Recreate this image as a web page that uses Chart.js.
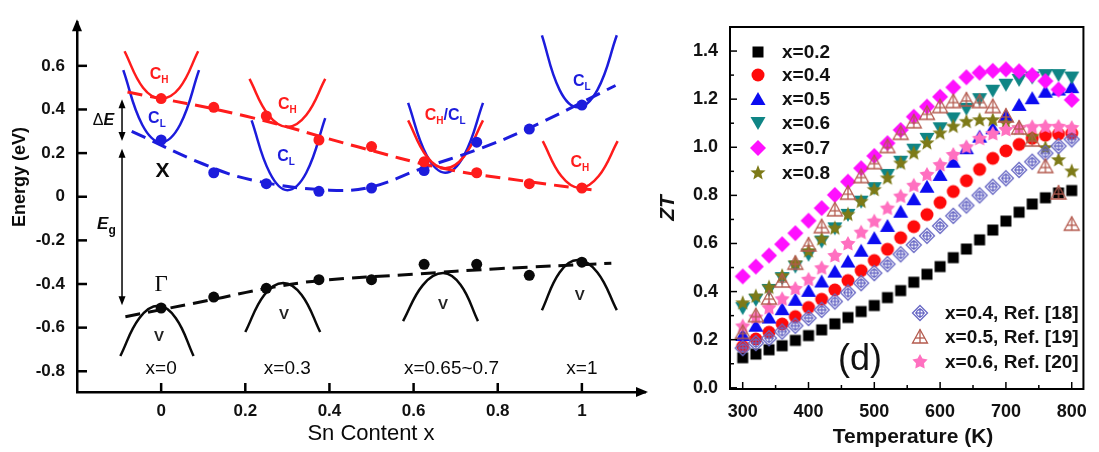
<!DOCTYPE html>
<html>
<head>
<meta charset="utf-8">
<title>Band edges and ZT of Mg2Si(1-x)Sn(x)</title>
<script src="https://cdn.jsdelivr.net/npm/chart.js@4.4.1/dist/chart.umd.min.js"></script>
<style>
  html, body { margin: 0; padding: 0; background: #fff; }
  #wrap { position: relative; width: 1099px; height: 452px; overflow: hidden; }
  canvas { position: absolute; top: 0; }
  #bands { left: 0; }
  #zt { left: 640px; }
</style>
</head>
<body>
<div id="wrap">
  <canvas id="bands" width="665" height="452"></canvas>
  <canvas id="zt" width="459" height="452"></canvas>
</div>
<script>
// ================================
// 1. DATA - left panel: band edges vs Sn content
// ================================
const snContent = [0, 0.125, 0.25, 0.375, 0.5, 0.625, 0.75, 0.875, 1.0];
const heavyDots = [0.45, 0.41, 0.37, 0.26, 0.23, 0.16, 0.11, 0.06, 0.04];   // C_H (red)
const lightDots = [0.26, 0.11, 0.06, 0.025, 0.04, 0.12, 0.25, 0.31, 0.42];  // C_L (blue)
const valenceDots = [-0.51, -0.46, -0.42, -0.38, -0.38, -0.31, -0.31, -0.36, -0.30];

// dashed guide lines
const heavyFitX = [-0.08, 0.2, 0.465, 0.67, 0.87, 1.03];
const heavyFitY = [0.48, 0.37, 0.23, 0.13, 0.07, 0.03];
const lightFitX = [-0.07, 0.1, 0.22, 0.4, 0.5, 0.62, 0.75, 0.87, 1.08];
const lightFitY = [0.30, 0.15, 0.075, 0.03, 0.045, 0.13, 0.215, 0.31, 0.51];
const valenceFitX = [-0.085, 0.125, 0.25, 0.375, 0.6, 0.8, 1.07];
const valenceFitY = [-0.55, -0.47, -0.42, -0.385, -0.355, -0.33, -0.305];

// band sketches (k-space cartoons placed at each composition)
const chAt0X = [-0.087, -0.043, 0, 0.044, 0.088],      chAt0Y = [0.667, 0.50, 0.45, 0.50, 0.667];
const clAt0X = [-0.09, -0.045, 0, 0.045, 0.09],        clAt0Y = [0.58, 0.33, 0.25, 0.33, 0.58];
const chAt3X = [0.21, 0.255, 0.30, 0.345, 0.39],       chAt3Y = [0.54, 0.375, 0.32, 0.375, 0.54];
const clAt3X = [0.215, 0.258, 0.30, 0.345, 0.39],      clAt3Y = [0.35, 0.11, 0.03, 0.11, 0.36];
const clAt67X = [0.587, 0.631, 0.675, 0.72, 0.765],    clAt67Y = [0.43, 0.19, 0.11, 0.19, 0.43];
const chAt67X = [0.587, 0.631, 0.675, 0.72, 0.765],    chAt67Y = [0.35, 0.185, 0.13, 0.185, 0.35];
const clAt1X = [0.905, 0.947, 0.99, 1.037, 1.083],     clAt1Y = [0.74, 0.49, 0.41, 0.49, 0.74];
const chAt1X = [0.907, 0.951, 0.995, 1.04, 1.085],     chAt1Y = [0.255, 0.095, 0.04, 0.095, 0.255];
const vAt0X = [-0.097, -0.052, -0.007, 0.035, 0.077],  vAt0Y = [-0.73, -0.557, -0.50, -0.557, -0.73];
const vAt3X = [0.2, 0.245, 0.29, 0.334, 0.378],        vAt3Y = [-0.62, -0.45, -0.395, -0.45, -0.62];
const vAt67X = [0.575, 0.622, 0.67, 0.712, 0.753],     vAt67Y = [-0.57, -0.405, -0.35, -0.405, -0.57];
const vAt1X = [0.905, 0.947, 0.99, 1.037, 1.083],      vAt1Y = [-0.52, -0.347, -0.29, -0.347, -0.52];

const snTicks = [0, 0.2, 0.4, 0.6, 0.8, 1];
const energyTicks = [0.6, 0.4, 0.2, 0, -0.2, -0.4, -0.6, -0.8];

// ================================
// 2. DATA - right panel: ZT vs temperature
// ================================
const temperatures = [300, 320, 340, 360, 380, 400, 420, 440, 460, 480, 500, 520, 540,
                      560, 580, 600, 620, 640, 660, 680, 700, 720, 740, 760, 780, 800];
const zt02 = [0.125, 0.14, 0.158, 0.175, 0.197, 0.217, 0.241, 0.266, 0.292, 0.317, 0.342, 0.375, 0.404,
              0.439, 0.472, 0.504, 0.541, 0.577, 0.615, 0.656, 0.693, 0.73, 0.764, 0.79, 0.81, 0.82];
const zt04 = [0.172, 0.203, 0.231, 0.265, 0.296, 0.334, 0.368, 0.407, 0.446, 0.487, 0.529, 0.576, 0.624,
              0.67, 0.72, 0.77, 0.816, 0.861, 0.908, 0.954, 0.985, 1.012, 1.037, 1.05, 1.055, 1.058];
const zt05 = [0.22, 0.258, 0.292, 0.327, 0.366, 0.403, 0.442, 0.483, 0.525, 0.57, 0.622, 0.673, 0.732,
              0.784, 0.836, 0.885, 0.94, 0.996, 1.044, 1.079, 1.13, 1.176, 1.204, 1.231, 1.24, 1.25];
const zt06 = [0.331, 0.366, 0.407, 0.456, 0.504, 0.553, 0.608, 0.663, 0.719, 0.774, 0.83, 0.885, 0.94,
              0.99, 1.035, 1.079, 1.12, 1.16, 1.2, 1.235, 1.26, 1.28, 1.29, 1.3, 1.3, 1.29];
const zt07 = [0.463, 0.504, 0.55, 0.597, 0.643, 0.695, 0.747, 0.802, 0.857, 0.913, 0.964, 1.017, 1.072,
              1.127, 1.169, 1.21, 1.249, 1.291, 1.31, 1.318, 1.324, 1.316, 1.3, 1.275, 1.24, 1.197];
const zt08 = [0.352, 0.38, 0.417, 0.465, 0.518, 0.568, 0.618, 0.663, 0.72, 0.774, 0.823, 0.871, 0.933,
              0.975, 1.017, 1.058, 1.086, 1.106, 1.113, 1.113, 1.1, 1.079, 1.044, 0.997, 0.947, 0.9];
const ztRef18 = [0.165, 0.186, 0.206, 0.234, 0.258, 0.29, 0.324, 0.359, 0.396, 0.435, 0.477, 0.514, 0.555,
                 0.594, 0.632, 0.673, 0.715, 0.758, 0.8, 0.836, 0.871, 0.906, 0.94, 0.975, 1.005, 1.033];
const ztRef19 = [0.23, 0.30, 0.373, 0.444, 0.518, 0.594, 0.67, 0.74, 0.809, 0.878, 0.936, 1.003, 1.058,
                 1.106, 1.141, 1.169, 1.19, 1.197, 1.19, 1.169, 1.13, 1.08, 1.03, 0.92, 0.81, 0.68];
const ztRef20 = [0.255, 0.292, 0.331, 0.368, 0.411, 0.449, 0.497, 0.548, 0.598, 0.645, 0.691, 0.745, 0.795,
                 0.84, 0.885, 0.926, 0.968, 1.0, 1.035, 1.055, 1.072, 1.079, 1.083, 1.085, 1.085, 1.08];

const tempTicks = [300, 400, 500, 600, 700, 800];
const ztTicks = [0, 0.2, 0.4, 0.6, 0.8, 1.0, 1.2, 1.4];

// ================================
// 3. HELPERS
// ================================
const FONT = 'Arial, "Liberation Sans", Helvetica, sans-serif';
const RED = '#ff1c1c', BLUE = '#1c1cdc', BLACK = '#0a0a0a';

const pts = (xs, ys) => xs.map((x, i) => ({ x, y: ys[i] }));

function sketch(xs, ys, color) {
    return { data: pts(xs, ys), showLine: true, borderColor: color, borderWidth: 2.5,
             pointRadius: 0, tension: 0.4, order: 2 };
}
function guide(xs, ys, color) {
    return { data: pts(xs, ys), showLine: true, borderColor: color, borderWidth: 3,
             borderDash: [15, 8], pointRadius: 0, tension: 0.4, order: 1 };
}
function dots(ys, color) {
    return { data: pts(snContent, ys), showLine: false, pointRadius: 5.5,
             pointBackgroundColor: color, pointBorderColor: color, pointBorderWidth: 0, order: 0 };
}

function line(ctx, x1, y1, x2, y2) {
    ctx.beginPath(); ctx.moveTo(x1, y1); ctx.lineTo(x2, y2); ctx.stroke();
}
function head(ctx, x, y, dir, half, len) {
    ctx.beginPath();
    if (dir === 'up') { ctx.moveTo(x, y); ctx.lineTo(x - half, y + len); ctx.lineTo(x + half, y + len); }
    if (dir === 'down') { ctx.moveTo(x, y); ctx.lineTo(x - half, y - len); ctx.lineTo(x + half, y - len); }
    if (dir === 'right') { ctx.moveTo(x, y); ctx.lineTo(x - len, y - half); ctx.lineTo(x - len, y + half); }
    ctx.closePath(); ctx.fill();
}
function dblArrow(ctx, x, yTop, yBot) {
    ctx.lineWidth = 1.5;
    line(ctx, x, yTop + 6, x, yBot - 6);
    head(ctx, x, yTop, 'up', 3.5, 9);
    head(ctx, x, yBot, 'down', 3.5, 9);
}
// runs: [{t, font, color, dy}] drawn centred on cx, visual middle at cy
function rich(ctx, cx, cy, runs, capShift) {
    let w = 0;
    runs.forEach(r => { ctx.font = r.font; w += ctx.measureText(r.t).width; });
    let x = cx - w / 2;
    ctx.textAlign = 'left'; ctx.textBaseline = 'alphabetic';
    runs.forEach(r => {
        ctx.font = r.font; ctx.fillStyle = r.color;
        ctx.fillText(r.t, x, cy + capShift + (r.dy || 0));
        x += ctx.measureText(r.t).width;
    });
}
function cLabel(ctx, cx, cy, sub, color) {
    rich(ctx, cx, cy, [
        { t: 'C', font: 'bold 16px ' + FONT, color },
        { t: sub, font: 'bold 10px ' + FONT, color, dy: 4 }
    ], 6);
}
function text(ctx, str, x, y, font, color, rot) {
    ctx.save();
    ctx.translate(x, y);
    if (rot) ctx.rotate(rot);
    ctx.font = font; ctx.fillStyle = color || BLACK;
    ctx.textAlign = 'center'; ctx.textBaseline = 'middle';
    ctx.fillText(str, 0, 0);
    ctx.restore();
}

// ================================
// 4. LEFT PANEL DECORATION
// ================================
const bandDecor = {
    id: 'bandDecor',
    afterDraw(chart) {
        const { ctx, chartArea: a, scales: { x, y } } = chart;
        const X = v => x.getPixelForValue(v), Y = v => y.getPixelForValue(v);
        ctx.save();
        ctx.strokeStyle = '#000'; ctx.fillStyle = '#000'; ctx.lineWidth = 2.5;

        // inward ticks and axis arrows
        energyTicks.forEach(v => line(ctx, a.left, Y(v), a.left + 10, Y(v)));
        snTicks.forEach(v => line(ctx, X(v), a.bottom, X(v), a.bottom - 9));
        head(ctx, a.left, a.top - 3, 'up', 5, 12);
        head(ctx, a.right + 3, a.bottom, 'right', 5, 12);

        // ΔE and Eg arrows
        dblArrow(ctx, X(-0.093), Y(0.447), Y(0.255));
        dblArrow(ctx, X(-0.093), Y(0.22), Y(-0.497));
        rich(ctx, X(-0.137), Y(0.355), [
            { t: '\u0394', font: '16px ' + FONT, color: BLACK },
            { t: 'E', font: 'italic bold 16px ' + FONT, color: BLACK }
        ], 6);
        rich(ctx, X(-0.13), Y(-0.12), [
            { t: 'E', font: 'italic bold 17px ' + FONT, color: BLACK },
            { t: 'g', font: 'bold 12px ' + FONT, color: BLACK, dy: 5 }
        ], 6);

        // band labels
        cLabel(ctx, X(-0.005), Y(0.565), 'H', RED);
        cLabel(ctx, X(-0.01), Y(0.365), 'L', BLUE);
        cLabel(ctx, X(0.3), Y(0.43), 'H', RED);
        cLabel(ctx, X(0.297), Y(0.19), 'L', BLUE);
        rich(ctx, X(0.675), Y(0.38), [
            { t: 'C', font: 'bold 16px ' + FONT, color: RED },
            { t: 'H', font: 'bold 10px ' + FONT, color: RED, dy: 4 },
            { t: '/C', font: 'bold 16px ' + FONT, color: BLUE },
            { t: 'L', font: 'bold 10px ' + FONT, color: BLUE, dy: 4 }
        ], 6);
        cLabel(ctx, X(1.0), Y(0.537), 'L', BLUE);
        cLabel(ctx, X(0.995), Y(0.165), 'H', RED);
        text(ctx, 'X', X(0.003), Y(0.115), 'bold 21px ' + FONT);
        text(ctx, '\u0393', X(0), Y(-0.405), '23px "Liberation Serif", "DejaVu Serif", serif');

        [[-0.005, -0.64], [0.292, -0.54], [0.67, -0.497], [0.995, -0.453]]
            .forEach(([vx, vy]) => text(ctx, 'V', X(vx), Y(vy), 'bold 15px ' + FONT, '#222'));
        [['x=0', 0], ['x=0.3', 0.3], ['x=0.65~0.7', 0.69], ['x=1', 1.0]]
            .forEach(([s, vx]) => text(ctx, s, X(vx), Y(-0.79), '19px ' + FONT));

        // axis titles
        text(ctx, 'Energy (eV)', 20, 177, 'bold 18px ' + FONT, BLACK, -Math.PI / 2);
        text(ctx, 'Sn Content x', 371, 434, '22px ' + FONT);
        ctx.restore();
    }
};

new Chart(document.getElementById('bands'), {
    type: 'scatter',
    data: {
        datasets: [
            dots(heavyDots, RED), dots(lightDots, BLUE), dots(valenceDots, BLACK),
            guide(heavyFitX, heavyFitY, RED), guide(lightFitX, lightFitY, BLUE),
            guide(valenceFitX, valenceFitY, BLACK),
            sketch(chAt0X, chAt0Y, RED), sketch(clAt0X, clAt0Y, BLUE),
            sketch(chAt3X, chAt3Y, RED), sketch(clAt3X, clAt3Y, BLUE),
            sketch(chAt67X, chAt67Y, RED), sketch(clAt67X, clAt67Y, BLUE),
            sketch(chAt1X, chAt1Y, RED), sketch(clAt1X, clAt1Y, BLUE),
            sketch(vAt0X, vAt0Y, BLACK), sketch(vAt3X, vAt3Y, BLACK),
            sketch(vAt67X, vAt67Y, BLACK), sketch(vAt1X, vAt1Y, BLACK)
        ]
    },
    options: {
        responsive: false, animation: false, events: [],
        layout: { padding: { top: 13, right: 20, left: 0, bottom: 0 } },
        plugins: { legend: { display: false }, tooltip: { enabled: false } },
        scales: {
            x: {
                type: 'linear', min: -0.2, max: 1.15,
                afterBuildTicks: s => { s.ticks = snTicks.map(v => ({ value: v })); },
                afterFit: s => { s.height = 60; },
                ticks: { callback: v => String(v), color: '#111', autoSkip: false, maxRotation: 0,
                         padding: 9, font: { family: FONT, size: 17, weight: 'bold' } },
                grid: { drawOnChartArea: false, drawTicks: false },
                border: { color: '#000', width: 2.5 }
            },
            y: {
                type: 'linear', min: -0.895, max: 0.8,
                afterBuildTicks: s => { s.ticks = energyTicks.map(v => ({ value: v })); },
                afterFit: s => { s.width = 77; },
                ticks: { callback: v => String(v), color: '#111', autoSkip: false,
                         padding: 12, font: { family: FONT, size: 17, weight: 'bold' } },
                grid: { drawOnChartArea: false, drawTicks: false },
                border: { color: '#000', width: 2.5 }
            }
        }
    },
    plugins: [bandDecor]
});

// ================================
// 5. RIGHT PANEL MARKERS
// ================================
function starPath(g, cx, cy, ro, ri) {
    for (let i = 0; i < 10; i++) {
        const r = i % 2 ? ri : ro;
        const ang = -Math.PI / 2 + i * Math.PI / 5;
        const px = cx + r * Math.cos(ang), py = cy + r * Math.sin(ang);
        i ? g.lineTo(px, py) : g.moveTo(px, py);
    }
    g.closePath();
}

function makeMarker(kind, color) {
    const c = document.createElement('canvas');
    c.width = c.height = 20;
    const g = c.getContext('2d');
    const m = 10;
    g.fillStyle = color; g.strokeStyle = color; g.lineWidth = 1.3;
    g.beginPath();
    switch (kind) {
        case 'square': g.fillRect(m - 5.5, m - 5.5, 11, 11); break;
        case 'circle': g.arc(m, m, 6.5, 0, Math.PI * 2); g.fill(); break;
        case 'up':
            g.moveTo(m, m - 7); g.lineTo(m + 7.5, m + 6); g.lineTo(m - 7.5, m + 6);
            g.closePath(); g.fill(); break;
        case 'down':
            g.moveTo(m, m + 7); g.lineTo(m + 7.5, m - 6); g.lineTo(m - 7.5, m - 6);
            g.closePath(); g.fill(); break;
        case 'diamond':
            g.moveTo(m, m - 8); g.lineTo(m + 8, m); g.lineTo(m, m + 8); g.lineTo(m - 8, m);
            g.closePath(); g.fill(); break;
        case 'star': starPath(g, m, m, 8, 3.5); g.fill(); break;
        case 'fatStar': starPath(g, m, m, 8, 4.2); g.fill(); break;
        case 'openDiamond':
            g.moveTo(m, m - 7.5); g.lineTo(m + 7.5, m); g.lineTo(m, m + 7.5); g.lineTo(m - 7.5, m);
            g.closePath(); g.stroke();
            g.beginPath(); g.arc(m, m, 3.5, 0, Math.PI * 2); g.stroke();
            line(g, m - 5, m, m + 5, m); line(g, m, m - 5, m, m + 5);
            break;
        case 'openUp':
            g.moveTo(m, m - 7.5); g.lineTo(m + 7.5, m + 6); g.lineTo(m - 7.5, m + 6);
            g.closePath(); g.stroke();
            line(g, m, m - 7.5, m, m + 6); line(g, m - 5, m + 1, m + 5, m + 1);
            break;
    }
    return c;
}

// ================================
// 6. RIGHT PANEL DECORATION
// ================================
const ztDecor = {
    id: 'ztDecor',
    afterDraw(chart) {
        const { ctx, chartArea: a, scales: { x, y } } = chart;
        ctx.save();
        ctx.strokeStyle = '#000'; ctx.lineWidth = 2;
        ctx.strokeRect(a.left, a.top, a.right - a.left, a.bottom - a.top);

        ctx.lineWidth = 1.5;
        for (let v = 0; v <= 1.45; v += 0.1) {
            const major = Math.round(v * 10) % 2 === 0;
            const py = y.getPixelForValue(v);
            line(ctx, a.left, py, a.left + (major ? 7 : 4), py);
        }
        for (let v = 300; v <= 800; v += 50) {
            const px = x.getPixelForValue(v);
            line(ctx, px, a.bottom, px, a.bottom - (v % 100 === 0 ? 7 : 4));
        }

        // legends
        const sets = chart.data.datasets;
        ctx.textAlign = 'left'; ctx.textBaseline = 'middle';
        ctx.font = 'bold 19px ' + FONT; ctx.fillStyle = '#111';
        const rows1 = [52, 75, 99, 123, 148, 173];
        rows1.forEach((ry, i) => {
            const mk = sets[i].pointStyle;
            ctx.drawImage(mk, 118 - mk.width / 2, ry - mk.height / 2);
            ctx.fillText(sets[i].label, 142, ry + 1);
        });
        const rows2 = [313, 337, 362];
        rows2.forEach((ry, i) => {
            const ds = sets[6 + i], mk = ds.pointStyle;
            ctx.drawImage(mk, 280 - mk.width / 2, ry - mk.height / 2);
            ctx.fillText(ds.label, 305, ry + 1);
        });

        text(ctx, '(d)', 220, 360, '36px ' + FONT, '#111');
        text(ctx, 'ZT', 28, 208, 'italic bold 21px ' + FONT, '#111', -Math.PI / 2);
        text(ctx, 'Temperature (K)', 273, 437, 'bold 21px ' + FONT, '#111');
        ctx.restore();
    }
};

const ztSeries = [
    { label: 'x=0.2', values: zt02, marker: makeMarker('square', '#000000'), order: 8 },
    { label: 'x=0.4', values: zt04, marker: makeMarker('circle', '#ff0a0a'), order: 7 },
    { label: 'x=0.5', values: zt05, marker: makeMarker('up', '#0b0bf0'), order: 6 },
    { label: 'x=0.6', values: zt06, marker: makeMarker('down', '#0f8585'), order: 5 },
    { label: 'x=0.7', values: zt07, marker: makeMarker('diamond', '#ff10ff'), order: 4 },
    { label: 'x=0.8', values: zt08, marker: makeMarker('star', '#7d7a18'), order: 3 },
    { label: 'x=0.4, Ref. [18]', values: ztRef18, marker: makeMarker('openDiamond', '#6767c4'), order: 2 },
    { label: 'x=0.5, Ref. [19]', values: ztRef19, marker: makeMarker('openUp', '#b45a4e'), order: 0 },
    { label: 'x=0.6, Ref. [20]', values: ztRef20, marker: makeMarker('fatStar', '#ff70c0'), order: 1 }
];

new Chart(document.getElementById('zt'), {
    type: 'scatter',
    data: {
        datasets: ztSeries.map(s => ({
            label: s.label, data: pts(temperatures, s.values), showLine: false,
            pointStyle: s.marker, pointRadius: 7, order: s.order
        }))
    },
    options: {
        responsive: false, animation: false, events: [],
        layout: { padding: { top: 27, right: 7, left: 0, bottom: 0 } },
        plugins: { legend: { display: false }, tooltip: { enabled: false } },
        scales: {
            x: {
                type: 'linear', min: 280.7, max: 817.8,
                afterBuildTicks: s => { s.ticks = tempTicks.map(v => ({ value: v })); },
                afterFit: s => { s.height = 63; },
                ticks: { callback: v => String(v), color: '#111', autoSkip: false, maxRotation: 0,
                         padding: 12, font: { family: FONT, size: 18, weight: 'bold' } },
                grid: { drawOnChartArea: false, drawTicks: false },
                border: { color: '#000', width: 2 }
            },
            y: {
                type: 'linear', min: -0.005, max: 1.5,
                afterBuildTicks: s => { s.ticks = ztTicks.map(v => ({ value: v })); },
                afterFit: s => { s.width = 90; },
                ticks: { callback: v => v.toFixed(1), color: '#111', autoSkip: false,
                         padding: 12, font: { family: FONT, size: 18, weight: 'bold' } },
                grid: { drawOnChartArea: false, drawTicks: false },
                border: { color: '#000', width: 2 }
            }
        }
    },
    plugins: [ztDecor]
});

console.log('Band-edge and ZT panels drawn');
</script>
</body>
</html>
